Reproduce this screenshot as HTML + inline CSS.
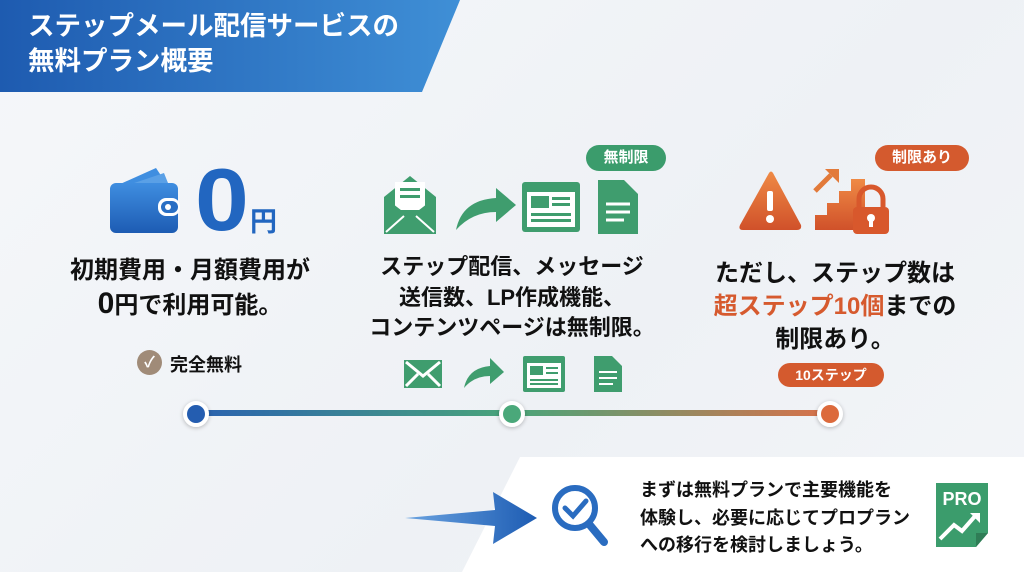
<!DOCTYPE html>
<html><head><meta charset="utf-8"><style>
*{margin:0;padding:0;box-sizing:border-box}
body{width:1024px;height:572px;overflow:hidden;position:relative;background:linear-gradient(135deg,#f5f7fa,#eef1f5 60%,#f3f5f8);font-family:"Liberation Sans","Noto Sans CJK JP",sans-serif;font-weight:bold;color:#111}
.a{position:absolute}
.t{position:absolute;white-space:nowrap;text-align:center}
.badge{position:absolute;border-radius:14px;color:#fff;font-size:15px;text-align:center;line-height:26px}
</style></head><body>
<div class="a" style="left:0;top:0;width:460px;height:92px;background:linear-gradient(90deg,#1e5bb0,#3f8fd6);clip-path:polygon(0 0,460px 0,422px 92px,0 92px);box-shadow:0 4px 8px rgba(0,0,0,.2)"></div>
<div class="a" style="left:28px;top:9px;color:#fff;font-size:26.5px;line-height:35px;white-space:nowrap">ステップメール配信サービスの<br>無料プラン概要</div>

<!-- col1 -->
<svg class="a" style="left:108px;top:165px" width="76" height="70" viewBox="0 0 76 70"><defs><linearGradient id="bl" x1="0" y1="0" x2="0" y2="1"><stop offset="0" stop-color="#3f8ee0"/><stop offset="1" stop-color="#1d5cb3"/></linearGradient></defs>
<path d="M10 20 L48 3 L54 12 L24 22Z" fill="#3f8ee0"/><path d="M14 22 L56 8 L60 18Z" fill="#5aa0e6"/>
<rect x="2" y="18" width="68" height="50" rx="6" fill="url(#bl)"/><rect x="50" y="33" width="22" height="18" rx="8" fill="#fff"/><rect x="53" y="36" width="17" height="12" rx="6" fill="#2a6fc4"/><circle cx="60" cy="42" r="3" fill="#fff"/></svg>
<div class="t" style="left:195px;top:150px;font-size:88px;line-height:100px;color:#2266c0;font-family:'Liberation Sans',sans-serif;transform:scaleX(1.1);transform-origin:left">0</div>
<div class="t" style="left:250px;top:200px;font-size:27px;color:#2266c0">円</div>
<div class="t" style="left:40px;width:300px;top:254px;font-size:24px;line-height:33px">初期費用・月額費用が<br><span style="font-size:30px">0</span>円で利用可能。</div>
<div class="a" style="left:137px;top:350px;width:25px;height:25px;border-radius:50%;background:#a08b78;color:#fff;font-size:15px;text-align:center;line-height:25px">✓</div>
<div class="t" style="left:170px;top:351px;font-size:18px">完全無料</div>

<!-- col2 -->
<div class="badge" style="left:586px;top:145px;width:80px;background:#3b9c6c">無制限</div>
<svg class="a" style="left:380px;top:172px" width="300" height="65" viewBox="0 0 300 65">
<g fill="#3f9d6e"><path d="M4 25 L30 4 L56 25 V62 H4Z"/><rect x="15" y="10" width="30" height="28" fill="#fff"/><rect x="20" y="16" width="20" height="3"/><rect x="20" y="23" width="20" height="3"/><path d="M4 25 L30 45 L56 25 V62 H4Z"/><path d="M6 60 L24 44 M54 60 L36 44" stroke="#fff" stroke-width="2"/>
<path d="M76 58 Q82 28 116 26 V16 L136 33 L116 50 V40 Q92 40 76 58Z"/>
<rect x="142" y="10" width="58" height="50" rx="3"/><rect x="147" y="20" width="48" height="35" fill="#fff"/><rect x="151" y="24" width="18" height="12"/><rect x="172" y="25" width="18" height="3"/><rect x="172" y="31" width="18" height="3"/><rect x="151" y="41" width="40" height="3"/><rect x="151" y="47" width="40" height="3"/>
<path d="M218 8 H244 L258 22 V62 H218Z"/><path d="M226 32H250M226 40H250M226 48H244" stroke="#fff" stroke-width="3"/></g></svg>
<div class="t" style="left:352px;width:320px;top:252px;font-size:22px;line-height:30.5px">ステップ配信、メッセージ<br>送信数、LP作成機能、<br>コンテンツページは無制限。</div>
<svg class="a" style="left:400px;top:352px" width="230" height="42" viewBox="0 0 230 42"><g fill="#3f9d6e">
<rect x="4" y="8" width="38" height="28"/><path d="M6 10 L23 24 L40 10 M6 34 L18 22 M40 34 L28 22" stroke="#fff" stroke-width="3" fill="none"/>
<path d="M64 36 Q68 16 90 14 V6 L104 20 L90 32 V24 Q74 24 64 36Z"/>
<rect x="123" y="4" width="42" height="36" rx="2"/><rect x="127" y="11" width="34" height="25" fill="#fff"/><rect x="130" y="14" width="13" height="9"/><rect x="146" y="15" width="12" height="2"/><rect x="146" y="20" width="12" height="2"/><rect x="130" y="27" width="28" height="2"/><rect x="130" y="31" width="28" height="2"/>
<path d="M194 4 H212 L222 14 V40 H194Z"/><path d="M199 20H217M199 26H217M199 32H213" stroke="#fff" stroke-width="2"/></g></svg>

<!-- col3 -->
<div class="badge" style="left:875px;top:145px;width:94px;background:#d45a2e">制限あり</div>
<svg class="a" style="left:735px;top:163px" width="170" height="75" viewBox="0 0 170 75"><defs><linearGradient id="or" x1="0" y1="0" x2="0" y2="1"><stop offset="0" stop-color="#ef8a45"/><stop offset="1" stop-color="#d0512a"/></linearGradient></defs>
<g fill="url(#or)"><path d="M34 10 Q36 7 38 10 L66 62 Q67 67 62 67 H8 Q3 67 5 62Z"/>
<path d="M80 67 V52 H92 V40 H104 V28 H116 V16 H130 V67Z"/><path d="M80 28 L96 12" stroke="#e27a3a" stroke-width="5"/><path d="M90 6 H104 V20Z" fill="#e27a3a"/>
<rect x="118" y="44" width="36" height="27" rx="4" fill="#d8582c"/><path d="M124 44 V36 A12 12 0 0 1 148 36 V44" stroke="#d8582c" stroke-width="5" fill="none"/></g>
<rect x="32" y="28" width="6" height="20" rx="2" fill="#fff"/><circle cx="35" cy="56" r="4" fill="#fff"/><circle cx="136" cy="55" r="4" fill="#fff"/><rect x="134" y="55" width="4" height="9" fill="#fff"/></svg>
<div class="t" style="left:685px;width:300px;top:257px;font-size:24px;line-height:33px">ただし、ステップ数は<br><span style="color:#d65a2e">超ステップ10個</span>までの<br>制限あり。</div>
<div class="badge" style="left:778px;top:363px;width:106px;height:24px;line-height:24px;font-size:14px;background:#d45a2e">10ステップ</div>

<!-- timeline -->
<div class="a" style="left:196px;top:410px;width:634px;height:6px;background:linear-gradient(90deg,#2a62b0,#4aa57a 50%,#d9714a)"></div>
<div class="a" style="left:183px;top:401px;width:26px;height:26px;border-radius:50%;background:#245db0;border:4px solid #fff;box-shadow:0 1px 4px rgba(0,0,0,.25)"></div>
<div class="a" style="left:499px;top:401px;width:26px;height:26px;border-radius:50%;background:#4aa87a;border:4px solid #fff;box-shadow:0 1px 4px rgba(0,0,0,.25)"></div>
<div class="a" style="left:817px;top:401px;width:26px;height:26px;border-radius:50%;background:#dc6a3c;border:4px solid #fff;box-shadow:0 1px 4px rgba(0,0,0,.25)"></div>

<!-- bottom -->
<div class="a" style="left:462px;top:457px;width:562px;height:115px;background:#fff;clip-path:polygon(58px 0,562px 0,562px 115px,0 115px);filter:drop-shadow(0 0 6px rgba(0,0,0,.1))"></div>
<svg class="a" style="left:405px;top:490px" width="135" height="56" viewBox="0 0 135 56"><defs><linearGradient id="ar" x1="0" x2="1"><stop offset="0" stop-color="#6aa3e0"/><stop offset="1" stop-color="#1d5cb3"/></linearGradient></defs><path d="M0 28 L90 20 L88 2 L132 28 L88 54 L90 36Z" fill="url(#ar)"/></svg>
<svg class="a" style="left:550px;top:482px" width="60" height="70" viewBox="0 0 60 70"><circle cx="25" cy="26" r="20" fill="none" stroke="#2a6cc0" stroke-width="6"/><path d="M15 26 L23 34 L36 19" stroke="#2a6cc0" stroke-width="5" fill="none" stroke-linecap="round"/><path d="M39 42 L54 60" stroke="#2a6cc0" stroke-width="8" stroke-linecap="round"/></svg>
<div class="a" style="left:640px;top:477px;font-size:18px;line-height:27.5px;white-space:nowrap">まずは無料プランで主要機能を<br>体験し、必要に応じてプロプラン<br>への移行を検討しましょう。</div>
<svg class="a" style="left:932px;top:481px" width="60" height="70" viewBox="0 0 60 70"><path d="M4 2 H56 V52 L44 66 H4Z" fill="#3b9c6c"/><path d="M44 66 V52 H56Z" fill="#2f7d56"/><text x="30" y="24" font-family="Liberation Sans" font-weight="bold" font-size="18" fill="#fff" text-anchor="middle">PRO</text><path d="M8 58 L22 44 L30 50 L44 34" stroke="#fff" stroke-width="4" fill="none"/><path d="M38 32 H48 V42Z" fill="#fff"/></svg>
</body></html>
